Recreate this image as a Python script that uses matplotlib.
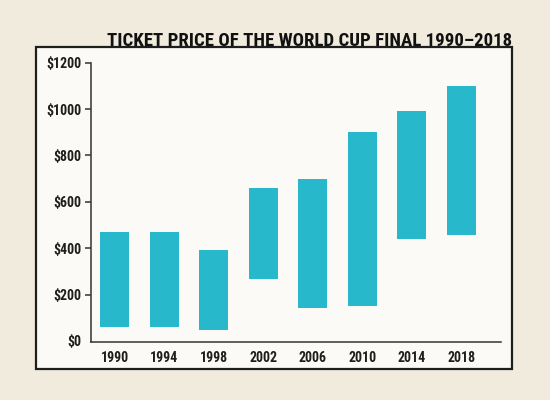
import matplotlib
matplotlib.use("Agg")
import matplotlib.pyplot as plt
from matplotlib.patches import Rectangle

years = ["1990", "1994", "1998", "2002", "2006", "2010", "2014", "2018"]
price_low = [60, 60, 45, 265, 140, 150, 440, 455]
price_high = [470, 470, 390, 660, 700, 900, 990, 1100]
ytick_vals = [0, 200, 400, 600, 800, 1000, 1200]
ytick_labels = ["$0", "$200", "$400", "$600", "$800", "$1000", "$1200"]
title = "TICKET PRICE OF THE WORLD CUP FINAL 1990\u20132018"

plt.rcParams['font.family'] = ['Roboto Condensed', 'Archivo Narrow', 'Barlow Condensed', 'DejaVu Sans']

BG = "#f1ebdd"
INNER = "#fbfaf6"
BAR = "#27b8cb"
DARK = "#1e1e1e"

fig = plt.figure(figsize=(5.5, 4), dpi=100, facecolor=BG)

# framed panel
box = Rectangle((36/550, 1-369/400), (512-36)/550, (369-47)/400,
                transform=fig.transFigure, facecolor=INNER, edgecolor=DARK,
                linewidth=1.6, zorder=-5)
fig.patches.append(box)

ax = fig.add_axes([91/550, 1-342.3/400, (501-91)/550, (342.3-62.7)/400])
ax.set_facecolor("none")
ax.set_zorder(2)

x = list(range(len(years)))
heights = [h - l for h, l in zip(price_high, price_low)]
ax.bar(x, heights, bottom=price_low, width=0.58, color=BAR, zorder=2)

ax.set_xlim(-0.477, 7.80)
ax.set_ylim(-6, 1200)
ax.set_yticks(ytick_vals)
ax.set_yticklabels(ytick_labels)
ax.set_xticks(x)
ax.set_xticklabels(years)

for s in ["top", "right"]:
    ax.spines[s].set_visible(False)
for s in ["left", "bottom"]:
    ax.spines[s].set_color("#333333")
    ax.spines[s].set_linewidth(1.1)
ax.spines["left"].set_bounds(-6, 1200)

ax.tick_params(axis="y", length=4, width=1.1, color="#333333", pad=3,
               labelsize=10, labelcolor=DARK)
ax.tick_params(axis="x", length=0, pad=6, labelsize=10, labelcolor=DARK)
for lab in ax.get_yticklabels() + ax.get_xticklabels():
    lab.set_fontweight("bold")
ax.yaxis.get_major_ticks()[0].tick1line.set_visible(False)

fig.text(512/550, 1-46.5/400, title, ha="right", va="baseline",
         fontsize=13.5, fontweight="bold", color="#111111", zorder=5)

fig.savefig("out.png", dpi=100, facecolor=BG)
